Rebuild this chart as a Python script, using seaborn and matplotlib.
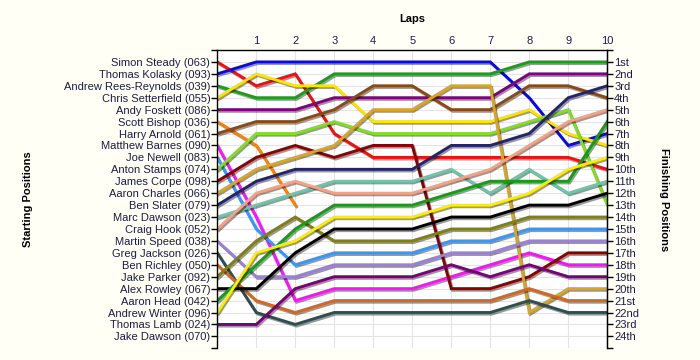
import numpy as np
import pandas as pd
import matplotlib
matplotlib.use("Agg")
import matplotlib.pyplot as plt
import matplotlib.patheffects as pe
import seaborn as sns

drivers = ["Simon Steady (063)", "Thomas Kolasky (093)", "Andrew Rees-Reynolds (039)",
           "Chris Setterfield (055)", "Andy Foskett (086)", "Scott Bishop (036)",
           "Harry Arnold (061)", "Matthew Barnes (090)", "Joe Newell (083)",
           "Anton Stamps (074)", "James Corpe (098)", "Aaron Charles (066)",
           "Ben Slater (079)", "Marc Dawson (023)", "Craig Hook (052)",
           "Martin Speed (038)", "Greg Jackson (026)", "Ben Richley (050)",
           "Jake Parker (092)", "Alex Rowley (067)", "Aaron Head (042)",
           "Andrew Winter (096)", "Thomas Lamb (024)", "Jake Dawson (070)"]

finish_labels = ["1st", "2nd", "3rd", "4th", "5th", "6th", "7th", "8th", "9th", "10th",
                 "11th", "12th", "13th", "14th", "15th", "16th", "17th", "18th", "19th",
                 "20th", "21st", "22nd", "23rd", "24th"]

laps = list(range(0, 11))

# position of each driver at laps 0..10 (None = not running)
positions = {
    "Simon Steady (063)":         [1, 3, 2, 7, 9, 9, 9, 9, 9, 9, 10],
    "Thomas Kolasky (093)":       [2, 1, 1, 1, 1, 1, 1, 1, 4, 8, 7],
    "Andrew Rees-Reynolds (039)": [3, 4, 4, 2, 2, 2, 2, 2, 1, 1, 1],
    "Chris Setterfield (055)":    [4, 2, 3, 3, 6, 6, 6, 6, 5, 7, 8],
    "Andy Foskett (086)":         [5, 5, 5, 4, 4, 4, 4, 4, 2, 2, 2],
    "Scott Bishop (036)":         [6, 8, 13, None, None, None, None, None, None, None, None],
    "Harry Arnold (061)":         [7, 6, 6, 5, 3, 3, 5, 5, 3, 3, 4],
    "Matthew Barnes (090)":       [8, 14, 21, 20, 20, 20, 19, 18, 17, 18, 18],
    "Joe Newell (083)":           [9, 15, 18, 17, 17, 17, 16, 16, 15, 15, 15],
    "Anton Stamps (074)":         [10, 7, 7, 6, 7, 7, 7, 7, 6, 5, 13],
    "James Corpe (098)":          [11, 9, 8, 9, 8, 8, 20, 20, 19, 17, 17],
    "Aaron Charles (066)":        [12, 10, 9, 8, 5, 5, 3, 3, 22, 20, 20],
    "Ben Slater (079)":           [13, 11, 10, 10, 10, 10, 8, 8, 7, 4, 3],
    "Marc Dawson (023)":          [14, 13, 12, 11, 11, 11, 10, 12, 10, 12, 11],
    "Craig Hook (052)":           [15, 12, 11, 12, 12, 12, 11, 10, 8, 6, 5],
    "Martin Speed (038)":         [16, 19, 19, 18, 18, 18, 17, 17, 16, 16, 16],
    "Greg Jackson (026)":         [17, 22, 23, 22, 22, 22, 22, 22, 21, 22, 22],
    "Ben Richley (050)":          [18, 21, 22, 21, 21, 21, 21, 21, 20, 21, 21],
    "Jake Parker (092)":          [19, 16, 14, 16, 16, 16, 15, 15, 14, 14, 14],
    "Alex Rowley (067)":          [20, 20, 17, 15, 15, 15, 14, 14, 13, 13, 12],
    "Aaron Head (042)":           [21, 18, 15, 13, 13, 13, 12, 11, 11, 11, 6],
    "Andrew Winter (096)":        [22, 17, 16, 14, 14, 14, 13, 13, 12, 10, 9],
    "Thomas Lamb (024)":          [23, 23, 20, 19, 19, 19, 18, 19, 18, 19, 19],
}

colors = {
    "Simon Steady (063)": "#F01010",
    "Thomas Kolasky (093)": "#0A0AE0",
    "Andrew Rees-Reynolds (039)": "#18A018",
    "Chris Setterfield (055)": "#FFE400",
    "Andy Foskett (086)": "#800080",
    "Scott Bishop (036)": "#FF8000",
    "Harry Arnold (061)": "#8B4A13",
    "Matthew Barnes (090)": "#FF10FF",
    "Joe Newell (083)": "#3399FF",
    "Anton Stamps (074)": "#80E020",
    "James Corpe (098)": "#8B0000",
    "Aaron Charles (066)": "#DAA520",
    "Ben Slater (079)": "#24246E",
    "Marc Dawson (023)": "#6CC6A8",
    "Craig Hook (052)": "#F8A080",
    "Martin Speed (038)": "#9A80DA",
    "Greg Jackson (026)": "#2F4F4F",
    "Ben Richley (050)": "#D2691E",
    "Jake Parker (092)": "#808010",
    "Alex Rowley (067)": "#000000",
    "Aaron Head (042)": "#10A010",
    "Andrew Winter (096)": "#FFEE00",
    "Thomas Lamb (024)": "#7A007A",
}

rows = []
for d, pos in positions.items():
    for lap, p in zip(laps, pos):
        if p is not None:
            rows.append({"Driver": d, "Lap": lap, "Position": p})
df = pd.DataFrame(rows)

plt.rcParams["font.family"] = ["Liberation Sans", "DejaVu Sans"]
text_color = "#1C1C44"

fig = plt.figure(figsize=(7, 3.6), dpi=100, facecolor="#FFFFF5")
ax = fig.add_axes([0.3104, 0.0325, 0.5571, 0.8286])
ax.set_facecolor("white")

sns.lineplot(data=df, x="Lap", y="Position", hue="Driver",
             hue_order=list(positions.keys()), palette=colors,
             estimator=None, linewidth=2.1, legend=False, ax=ax)

for line in ax.lines:
    line.set_path_effects([pe.SimpleLineShadow(offset=(1, -1.2), shadow_color="black", alpha=0.4),
                           pe.Normal()])
    line.set_solid_joinstyle("miter")

ax.set_xlim(0, 10)
ax.set_ylim(25, 0)

ax.xaxis.tick_top()
ax.xaxis.set_label_position("top")
ax.set_xticks(range(1, 11))
ax.set_xticklabels([str(i) for i in range(1, 11)], fontsize=8, color=text_color)
ax.tick_params(axis="x", length=0, pad=3)
ax.set_xlabel("Laps", fontsize=8, fontweight="bold", labelpad=10)

ax.set_yticks(range(0, 26))
ax.set_yticklabels([""] + drivers + [""], fontsize=8, color=text_color)
ax.tick_params(axis="y", length=4, width=1, color="black", pad=1)
ax.set_ylabel("Starting Positions", fontsize=8, fontweight="bold")
ax.yaxis.set_label_coords(-0.472, 0.5)

ax.grid(True, color="#E4E4E4", linewidth=0.8)
ax.set_axisbelow(True)
for side in ["top", "left", "right"]:
    ax.spines[side].set_color("black")
    ax.spines[side].set_linewidth(1)
ax.spines["bottom"].set_visible(False)

ax2 = ax.twinx()
ax2.set_ylim(25, 0)
ax2.set_yticks(range(0, 26))
ax2.set_yticklabels([""] + finish_labels + [""], fontsize=8, color=text_color)
ax2.tick_params(axis="y", length=4, width=1, color="black", pad=1)
ax2.set_ylabel("Finishing Positions", fontsize=8, fontweight="bold", rotation=270)
ax2.yaxis.set_label_coords(1.158, 0.5)
for side in ["top", "bottom", "left"]:
    ax2.spines[side].set_visible(False)
ax2.spines["right"].set_color("black")

fig.savefig("out.png", dpi=100, facecolor=fig.get_facecolor())
